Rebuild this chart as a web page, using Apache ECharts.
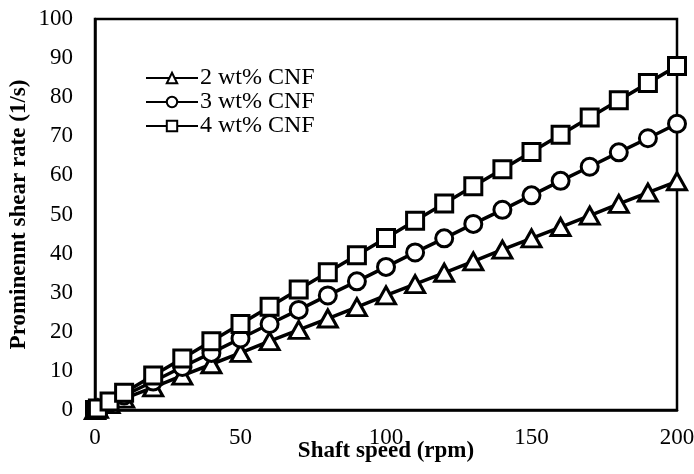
<!DOCTYPE html>
<html>
<head>
<meta charset="utf-8">
<script src="https://cdn.jsdelivr.net/npm/echarts@6/dist/echarts.min.js"></script>
<style>
  html, body { margin: 0; padding: 0; background: #fff; }
  #chart { width: 694px; height: 474px; }
</style>
</head>
<body>
<div id="chart"></div>
<script>
const speeds = [0, 1, 5, 10, 20, 30, 40, 50, 60, 70, 80, 90, 100, 110, 120, 130, 140, 150, 160, 170, 180, 190, 200];
const cnf2 = [0, 0.3, 1.5, 2.9, 5.8, 8.8, 11.7, 14.6, 17.6, 20.5, 23.4, 26.3, 29.3, 32.2, 35.1, 38.0, 41.0, 43.9, 46.8, 49.7, 52.7, 55.6, 58.5];
const cnf3 = [0, 0.4, 1.8, 3.7, 7.3, 11.0, 14.6, 18.3, 22.0, 25.6, 29.3, 32.9, 36.6, 40.3, 43.9, 47.6, 51.2, 54.9, 58.6, 62.2, 65.9, 69.5, 73.2];
const cnf4 = [0, 0.4, 2.2, 4.4, 8.8, 13.2, 17.6, 22.0, 26.4, 30.8, 35.2, 39.6, 44.0, 48.4, 52.8, 57.2, 61.6, 66.0, 70.4, 74.8, 79.2, 83.6, 88.0];
const names = ['2 wt% CNF', '3 wt% CNF', '4 wt% CNF'];
const symbols = ['triangle', 'circle', 'rect'];
const sizes = [[19, 17], 17, 17];

const font = '"Liberation Serif", "Times New Roman", serif';

let myChart;
function draw() {
    const all = [cnf2, cnf3, cnf4];
    const series = all.map(function (vals, i) {
        return {
            name: names[i],
            type: 'line',
            data: speeds.map(function (s, k) { return [s, vals[k]]; }),
            symbol: symbols[i],
            symbolSize: sizes[i],
            showAllSymbol: true,
            lineStyle: { color: '#000', width: 3.5 },
            itemStyle: { color: '#fff', borderColor: '#000', borderWidth: 3 },
            emphasis: { disabled: true },
            animation: false
        };
    });

    let option = {
        backgroundColor: '#fff',
        grid: {
            left: 95, right: 17, top: 19, bottom: 64,
            outerBoundsMode: 'none',
            containLabel: false,
            show: true, borderColor: '#000', borderWidth: 2.5
        },
        legend: {
            orient: 'vertical',
            left: 140,
            top: 61,
            itemWidth: 52,
            itemHeight: 13,
            itemGap: 0,
            textStyle: { fontFamily: font, fontSize: 24, color: '#000', padding: [0, 0, 0, -3] },
            data: names
        },
        xAxis: {
            type: 'value',
            min: 0, max: 200, interval: 50,
            name: 'Shaft speed (rpm)',
            nameLocation: 'middle',
            nameGap: 30,
            nameMoveOverlap: false,
            nameTextStyle: { fontFamily: font, fontSize: 23, fontWeight: 'bold', color: '#000' },
            axisLine: { show: true, lineStyle: { color: '#000', width: 2.5 } },
            axisTick: { show: false },
            splitLine: { show: false },
            axisLabel: { fontFamily: font, fontSize: 23, color: '#000', margin: 16 }
        },
        yAxis: {
            type: 'value',
            min: 0, max: 100, interval: 10,
            name: 'Prominennt shear rate (1/s)',
            nameLocation: 'middle',
            nameGap: 64,
            nameMoveOverlap: false,
            nameTextStyle: { fontFamily: font, fontSize: 23, fontWeight: 'bold', color: '#000' },
            axisLine: { show: true, lineStyle: { color: '#000', width: 2.5 } },
            axisTick: { show: false },
            splitLine: { show: false },
            axisLabel: { fontFamily: font, fontSize: 23, color: '#000', margin: 22 }
        },
        series: series
    };

    myChart = echarts.init(document.getElementById('chart'));
    myChart.setOption(option);

    window.addEventListener('resize', function () {
        myChart.resize();
    }, false);
}

draw();
</script>
</body>
</html>
